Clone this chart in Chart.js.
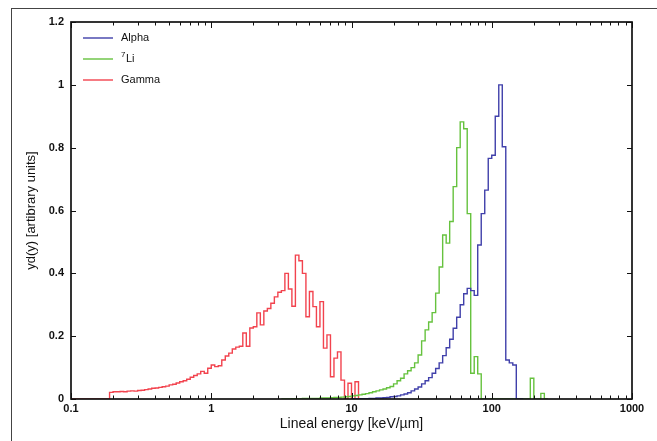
<!DOCTYPE html>
<html>
<head>
<meta charset="utf-8">
<script src="https://cdn.jsdelivr.net/npm/chart.js@4.4.1/dist/chart.umd.min.js"></script>
<style>
html,body{margin:0;padding:0;background:#fff;}
#wrap{position:relative;width:657px;height:441px;overflow:hidden;background:#fff;}
canvas{position:absolute;left:0;top:0;}
#frame{position:absolute;left:11px;top:8px;width:700px;height:500px;border-left:1px solid #444;border-top:1px solid #444;pointer-events:none;}
</style>
</head>
<body>
<div id="wrap"><canvas id="c" width="657" height="441"></canvas><div id="frame"></div></div>
<script>
// ---- axis ticks ----
const xTickValues = [0.1, 1, 10, 100, 1000];
const xTickLabels = ['0.1', '1', '10', '100', '1000'];
const yTickValues = [0, 0.2, 0.4, 0.6, 0.8, 1, 1.2];
const yTickLabels = ['0', '0.2', '0.4', '0.6', '0.8', '1', '1.2'];

// ---- series names ----
const seriesNames = ['Alpha', '\u2077Li', 'Gamma'];

// ---- histogram binning (log bins, 40 per decade, starting at 0.1) ----
const binsPerDecade = 40;
const firstEdge = 0.1;

// ---- series values (yd(y), one value per bin) ----
const alphaStart = 80;
const alphaValues = [
  0.001,0.001,0.001,0.001,0.001,
  0.002,0.002,0.003,0.003,0.004,0.005,0.007,0.008,0.010,0.013,
  0.016,0.020,0.026,0.032,0.038,0.048,0.058,0.068,0.082,0.097,
  0.115,0.138,0.163,0.190,0.225,0.260,0.300,0.335,0.352,
  0.345,0.330,0.490,0.590,0.665,0.766,0.776,0.900,1.000,0.803,
  0.124,0.115,0.108,0,0
];

const lithiumStart = 60;
const lithiumValues = [
  0,0,0,0.001,0.001,0.001,
  0.002,0.002,0.002,0.002,0.002,
  0.003,0.003,0.003,
  0.004,0.005,0.005,0.006,0.007,0.008,0.010,0.011,0.013,0.015,
  0.017,0.020,0.023,0.026,0.029,0.032,0.036,0.040,0.048,
  0.058,0.066,0.080,0.090,0.100,0.115,0.140,0.185,0.220,0.245,0.275,
  0.337,0.420,0.522,0.496,0.565,0.676,0.800,0.882,0.860,0.590,0.082,0.135,0.080,
  0,0,0,0,0,0,0,0,0,0,0,0,0,0,
  0.066,0,0,0.018,0
];

const gammaStart = 0;
const gammaValues = [
  0,0,0,0,0,0,0,0,0,0,0,
  0.021,0.023,0.023,0.024,0.023,0.025,0.026,0.025,0.027,0.028,
  0.030,0.032,0.034,0.035,0.037,0.039,0.041,0.045,0.047,0.051,
  0.055,0.058,0.063,0.069,0.075,0.080,0.088,0.082,0.098,0.108,
  0.103,0.106,0.124,0.137,0.146,0.159,0.165,0.168,0.210,0.168,
  0.226,0.230,0.274,0.236,0.280,0.288,0.305,0.325,0.340,0.345,
  0.400,0.350,0.295,0.458,0.440,0.400,0.262,0.342,0.294,0.230,
  0.310,0.162,0.204,0.071,0.130,0.150,0.060,0,0.050,0,
  0.055,0
];

const seriesColors = ['#4040aa', '#66c23e', '#f2434e'];

function binEdge(i) { return firstEdge * Math.pow(10, i / binsPerDecade); }
function histPoints(start, values) {
  const pts = values.map((v, k) => ({ x: binEdge(start + k), y: v }));
  pts.push({ x: binEdge(start + values.length), y: values[values.length - 1] });
  return pts;
}

const FONT = "'Liberation Sans', Arial, Helvetica, sans-serif";
const SUP = { '\u2070':'0','\u00b9':'1','\u00b2':'2','\u00b3':'3','\u2074':'4','\u2075':'5','\u2076':'6','\u2077':'7','\u2078':'8','\u2079':'9' };

function drawLabel(ctx, text, x, y) {
  let cx = x;
  for (const ch of text) {
    if (SUP[ch] !== undefined) {
      ctx.font = '8px ' + FONT;
      ctx.fillText(SUP[ch], cx, y - 4);
      cx += ctx.measureText(SUP[ch]).width + 0.5;
    } else {
      ctx.font = '11px ' + FONT;
      ctx.fillText(ch, cx, y);
      cx += ctx.measureText(ch).width;
    }
  }
}

const frameTicksLegend = {
  id: 'frameTicksLegend',
  afterDatasetsDraw(chart) {
    const { ctx, chartArea: a, scales: { x, y } } = chart;
    ctx.save();
    ctx.strokeStyle = '#111';
    ctx.lineWidth = 1;
    ctx.beginPath();
    yTickValues.forEach(v => {
      const py = Math.round(y.getPixelForValue(v)) + 0.5;
      ctx.moveTo(a.left, py); ctx.lineTo(a.left + 5, py);
      ctx.moveTo(a.right, py); ctx.lineTo(a.right - 5, py);
    });
    for (let d = -1; d <= 3; d++) {
      for (let m = 1; m <= 9; m++) {
        const v = m * Math.pow(10, d);
        if (v < 0.1 || v > 1000) continue;
        const px = Math.round(x.getPixelForValue(v)) + 0.5;
        const L = (m === 1) ? 6 : 3.5;
        ctx.moveTo(px, a.bottom); ctx.lineTo(px, a.bottom - L);
        ctx.moveTo(px, a.top); ctx.lineTo(px, a.top + L);
      }
    }
    ctx.stroke();
    ctx.lineWidth = 1.7;
    ctx.strokeRect(a.left, a.top, a.right - a.left, a.bottom - a.top);

    // legend
    ctx.textBaseline = 'middle';
    ctx.textAlign = 'left';
    chart.data.datasets.forEach((ds, k) => {
      const ly = a.top + 16 + k * 21;
      ctx.strokeStyle = ds.borderColor;
      ctx.lineWidth = 1.4;
      ctx.beginPath();
      ctx.moveTo(a.left + 12, ly); ctx.lineTo(a.left + 42, ly);
      ctx.stroke();
      ctx.fillStyle = '#111';
      drawLabel(ctx, ds.label, a.left + 50, ly);
    });
    ctx.restore();
  }
};

new Chart(document.getElementById('c'), {
  type: 'line',
  data: {
    datasets: [
      { label: seriesNames[0], data: histPoints(alphaStart, alphaValues) },
      { label: seriesNames[1], data: histPoints(lithiumStart, lithiumValues) },
      { label: seriesNames[2], data: histPoints(gammaStart, gammaValues) }
    ].map((d, k) => Object.assign(d, {
      borderColor: seriesColors[k], backgroundColor: seriesColors[k],
      borderWidth: 1.4, pointRadius: 0, stepped: 'before', fill: false, tension: 0
    }))
  },
  options: {
    responsive: false,
    animation: false,
    devicePixelRatio: 1,
    layout: { padding: { top: 22, right: 25, bottom: 0, left: 0 } },
    plugins: { legend: { display: false }, tooltip: { enabled: false } },
    scales: {
      x: {
        type: 'logarithmic', min: 0.1, max: 1000, position: 'bottom',
        grid: { display: false, drawTicks: false },
        border: { display: false },
        afterBuildTicks: s => { s.ticks = xTickValues.map(v => ({ value: v })); },
        ticks: { autoSkip: false, maxRotation: 0, padding: 3, color: '#111',
          font: { family: FONT, size: 11, weight: 'bold' },
          callback: (v, i) => xTickLabels[i] },
        title: { display: true, text: 'Lineal energy [keV/\u00b5m]', color: '#111',
          font: { family: FONT, size: 14 }, padding: { top: 0, bottom: 8 } },
        afterFit: s => { s.height = 42; }
      },
      y: {
        min: 0, max: 1.2,
        grid: { display: false, drawTicks: false },
        border: { display: false },
        afterBuildTicks: s => { s.ticks = yTickValues.map(v => ({ value: v })); },
        ticks: { padding: 7, color: '#111',
          font: { family: FONT, size: 11, weight: 'bold' },
          callback: (v, i) => yTickLabels[i] },
        title: { display: true, text: 'yd(y) [artibrary units]', color: '#111',
          font: { family: FONT, size: 13 }, padding: { top: 24, bottom: 0 } },
        afterFit: s => { s.width = 71; }
      }
    }
  },
  plugins: [frameTicksLegend]
});
</script>
</body>
</html>
